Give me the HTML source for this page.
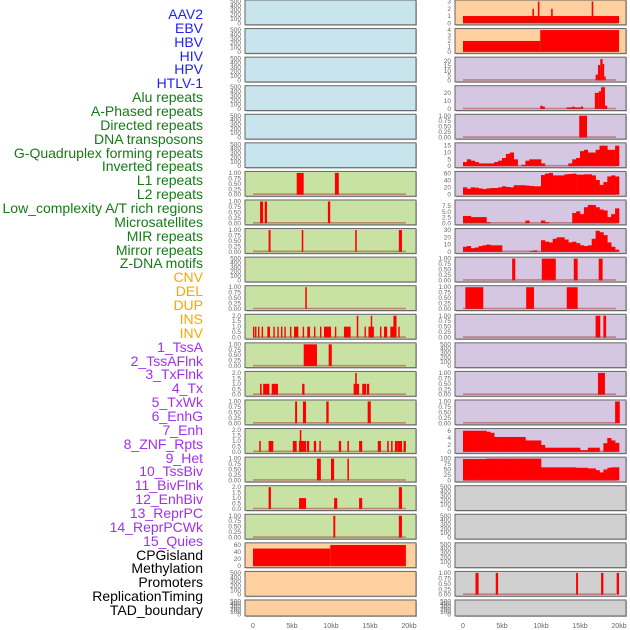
<!DOCTYPE html>
<html><head><meta charset="utf-8"><style>
html,body{margin:0;padding:0;background:#fff;}
body{width:630px;height:630px;overflow:hidden;position:relative;font-family:"Liberation Sans",sans-serif;}
.lab{position:absolute;right:427px;font-size:14px;line-height:14px;white-space:nowrap;}
svg{position:absolute;left:0;top:0;}
</style></head><body>
<div id="labels"></div>
<svg id="chart" width="630" height="630"></svg>
<script>
// ---- labels ----
const trackNames = ["AAV2","EBV","HBV","HIV","HPV","HTLV-1","Alu repeats","A-Phased repeats","Directed repeats","DNA transposons","G-Quadruplex forming repeats","Inverted repeats","L1 repeats","L2 repeats","Low_complexity A/T rich regions","Microsatellites","MIR repeats","Mirror repeats","Z-DNA motifs","CNV","DEL","DUP","INS","INV","1_TssA","2_TssAFlnk","3_TxFlnk","4_Tx","5_TxWk","6_EnhG","7_Enh","8_ZNF_Rpts","9_Het","10_TssBiv","11_BivFlnk","12_EnhBiv","13_ReprPC","14_ReprPCWk","15_Quies","CPGisland","Methylation","Promoters","ReplicationTiming","TAD_boundary"];
const trackGroups = [0,0,0,0,0,0,1,1,1,1,1,1,1,1,1,1,1,1,1,2,2,2,2,2,3,3,3,3,3,3,3,3,3,3,3,3,3,3,3,4,4,4,4,4];
const xTickVals = [0,5,10,15,20];
const xTickLabels = ["0","5kb","10kb","15kb","20kb"];

// ---- data: segments [startKb, endKb, value] ----
const AluRepeats = [[5.6,6.5,1],[10.5,11.0,1]];
const APhased = [[0.9,1.3,1],[1.5,1.8,1],[9.6,9.9,1]];
const Directed = [[2.0,2.25,1],[6.25,6.45,1],[13.1,13.3,1],[18.7,19.1,1]];
const GQuad = [[6.7,6.9,1]];
const Inverted = [[0,0.15,1],[0.26,0.41,1],[0.64,0.79,1],[1.11,1.26,1],[1.84,2.18,1],[2.61,2.76,1],[3.12,3.27,1],[3.59,3.74,1],[4.02,4.17,1],[4.74,4.89,1],[5.26,5.81,1],[6.37,6.52,1],[6.96,7.31,1],[7.82,7.97,1],[8.59,8.74,1],[9.1,10.0,1],[10.5,10.65,1],[11.66,12.52,1],[13.3,13.5,2],[14.3,14.45,1],[14.8,15.5,1],[15.1,15.25,2],[16.28,16.43,1],[16.8,17.2,1],[17.6,18.4,1],[18.0,18.4,2],[18.63,18.78,1]];
const L1Repeats = [[6.5,8.2,1],[9.7,10.1,1]];
const L2Repeats = [[0.9,1.1,1],[1.3,2.1,1],[2.4,3.2,1],[6.3,6.6,1],[12.9,13.6,1],[13.1,13.3,2],[14.0,14.5,1],[14.6,14.9,1]];
const LowComplexity = [[5.4,5.65,1],[6.4,6.8,1],[9.4,9.7,1],[14.7,15.1,1]];
const Microsatellites = [[0.8,1.0,1],[2.0,2.6,1],[5.1,5.6,1],[5.9,6.8,1],[6.0,6.2,2],[6.9,7.2,1],[7.8,8.1,1],[8.5,8.7,1],[11.0,11.3,1],[12.1,12.3,1],[13.6,14.0,1],[16.0,16.4,1],[17.2,17.4,1],[17.7,17.9,1],[18.2,18.5,1],[18.5,19.1,1],[19.3,19.6,1]];
const MIRRepeats = [[8.2,8.7,1],[10.0,10.4,1],[12.1,12.3,1]];
const MirrorRepeats = [[2.0,2.3,2],[5.9,6.8,1],[10.4,10.8,1],[13.6,14.0,1],[18.7,19.1,2]];
const ZDNA = [[10.3,10.55,1],[18.7,19.1,1]];
const DUPtrack = [[0,9.9,50],[9.9,19.6,60]];
const INStrack = [[0,20,1],[8.9,9.1,2],[9.6,9.8,3],[11.3,11.5,2],[16.5,16.7,3]];
const INVtrack = [[0,9.9,2],[9.9,20,4]];
const TssA = [[17.0,17.3,6],[17.3,17.6,16],[17.6,17.9,22],[17.9,18.1,17],[18.1,18.3,4]];
const TssAFlnk = [[9.9,10.2,4],[10.2,10.5,3],[13.3,14.0,2],[14.0,14.3,3],[14.3,15.1,2],[15.1,15.4,3],[16.9,17.4,20],[17.4,17.7,22],[17.7,18.2,27],[18.2,18.5,4]];
const TxFlnk = [[14.9,15.9,1]];
const ZNF = [[6.3,6.7,1],[10.1,11.9,1],[14.2,14.7,1],[17.4,17.9,1]];
const Het = [[0.3,2.6,1],[8.1,9.1,1],[13.3,14.7,1]];
const TssBiv = [[17.0,17.6,1],[18.0,18.35,1]];
const EnhBiv = [[17.3,18.2,1]];
const ReprPC = [[19.5,20.1,1]];
const Promoters = [[1.6,2.0,1],[4.2,4.5,1],[14.5,14.75,1],[17.7,18.0,1],[19.7,20.0,1]];

// ---- data: 0.5kb bins ----
const Tx = [3,5,4,3,2,2,2,2,3,4,6,9,10,5,0,1,4,5,5,5,2,0,0,0,0,0,0,2,5,6,11,12,10,10,12,15,15,12,12,15];
const TxWk = [21,17,21,20,18,16,18,19,19,21,24,22,21,27,27,27,26,25,24,24,56,60,62,55,55,55,58,59,60,57,57,58,58,55,42,28,36,52,55,52];
const EnhG = [3.2,3.2,2.7,2.7,2.7,2.7,0.5,0,0,0,0,0,0,0,0,0,1.2,0,0,0,1.2,0.5,0,0,0,0,0,0,4.5,5.2,4,7,8,8,7,6,5.6,2.7,4,6.5];
const Enh = [7,8,5,6,8,9,10,9,9,9,0,0,0,0,0,0,0,1,2,0,16,14,13,18,20,20,17,13,14,12,9,8,9,18,29,27,23,13,7,3];
const ReprPCWk = [6.1,6.1,6.1,6.1,6.1,6.1,5.8,5.5,4.3,4.3,4.3,4.3,4.3,4.3,4.3,4.3,3.3,3.3,3.3,3.3,2,1.2,1.2,1.2,1.2,1.2,1.2,1.2,1.2,1.2,0.5,0.5,1.2,1.2,1.2,0,2.5,4,3.3,2.6];
const Quies = [98,98,98,98,98,98,100,100,100,100,100,100,100,100,100,100,100,100,100,100,60,60,60,60,60,60,60,60,60,58,58,58,55,55,47,37,50,58,60,60];

const T_EMPTY=[[0,"0"],[100,"100"],[200,"200"],[300,"300"],[400,"400"],[500,"500"]];
const T_BIN=[[0,"0.00"],[0.25,"0.25"],[0.5,"0.50"],[0.75,"0.75"],[1,"1.00"]];
const T_TWO=[[0,"0.0"],[0.5,"0.5"],[1,"1.0"],[1.5,"1.5"],[2,"2.0"]];
const BG={b:"#c8e4ec",g:"#c8e2a4",o:"#fecf9f",p:"#d5c7e2",k:"#d0d0d0"};
// column, row, bg, ticks, ylim, segs, bins
const panels=[
 [0,0,"b",T_EMPTY,500,null,null],[0,1,"b",T_EMPTY,500,null,null],[0,2,"b",T_EMPTY,500,null,null],
 [0,3,"b",T_EMPTY,500,null,null],[0,4,"b",T_EMPTY,500,null,null],[0,5,"b",T_EMPTY,500,null,null],
 [0,6,"g",T_BIN,1,AluRepeats,null],[0,7,"g",T_BIN,1,APhased,null],[0,8,"g",T_BIN,1,Directed,null],
 [0,9,"g",T_EMPTY,500,null,null],[0,10,"g",T_BIN,1,GQuad,null],[0,11,"g",T_TWO,2,Inverted,null],
 [0,12,"g",T_BIN,1,L1Repeats,null],[0,13,"g",T_TWO,2,L2Repeats,null],[0,14,"g",T_BIN,1,LowComplexity,null],
 [0,15,"g",T_TWO,2,Microsatellites,null],[0,16,"g",T_BIN,1,MIRRepeats,null],[0,17,"g",T_TWO,2,MirrorRepeats,null],
 [0,18,"g",T_BIN,1,ZDNA,null],[0,19,"o",[[0,"0"],[20,"20"],[40,"40"],[60,"60"]],62,DUPtrack,null],
 [0,20,"o",T_EMPTY,500,null,null],[0,21,"o",T_EMPTY,500,null,null],
 [1,0,"o",[[0,"0"],[1,"1"],[2,"2"],[3,"3"]],3,INStrack,null],
 [1,1,"o",[[0,"0"],[1,"1"],[2,"2"],[3,"3"],[4,"4"]],4,INVtrack,null],
 [1,2,"p",[[0,"0"],[5,"5"],[10,"10"],[15,"15"],[20,"20"]],22.5,TssA,null],
 [1,3,"p",[[0,"0"],[10,"10"],[20,"20"]],27,TssAFlnk,null],
 [1,4,"p",T_BIN,1,TxFlnk,null],
 [1,5,"p",[[0,"0"],[5,"5"],[10,"10"],[15,"15"]],16,null,Tx],
 [1,6,"p",[[0,"0"],[20,"20"],[40,"40"],[60,"60"]],62,null,TxWk],
 [1,7,"p",[[0,"0.0"],[2.5,"2.5"],[5,"5.0"],[7.5,"7.5"]],9.5,null,EnhG],
 [1,8,"p",[[0,"0"],[10,"10"],[20,"20"],[30,"30"]],30,null,Enh],
 [1,9,"p",T_BIN,1,ZNF,null],[1,10,"p",T_BIN,1,Het,null],[1,11,"p",T_BIN,1,TssBiv,null],
 [1,12,"p",T_EMPTY,500,null,null],[1,13,"p",T_BIN,1,EnhBiv,null],[1,14,"p",T_BIN,1,ReprPC,null],
 [1,15,"p",[[0,"0"],[2,"2"],[4,"4"],[6,"6"]],6.3,null,ReprPCWk],
 [1,16,"p",[[0,"0"],[25,"25"],[50,"50"],[75,"75"],[100,"100"]],100,null,Quies],
 [1,17,"k",T_EMPTY,500,null,null],[1,18,"k",T_EMPTY,500,null,null],[1,19,"k",T_EMPTY,500,null,null],
 [1,20,"k",T_BIN,1,Promoters,null],[1,21,"k",T_EMPTY,500,null,null]
];

const groupColors=["#2020ff","#167a16","#ffa500","#a030f0","#000000"];
const labDiv=document.getElementById('labels');
trackNames.forEach((n,j)=>{
  const d=document.createElement('div');
  d.className='lab';
  d.textContent=n;
  d.style.top=(15+j*13.86-8)+'px';
  d.style.color=groupColors[trackGroups[j]];
  
  
  labDiv.appendChild(d);
});

const NS="http://www.w3.org/2000/svg";
const svg=document.getElementById('chart');
function mk(tag,attrs,parent){const e=document.createElementNS(NS,tag);for(const k in attrs)e.setAttribute(k,attrs[k]);(parent||svg).appendChild(e);return e;}
const colX=[245,455], panelW=171;
function xScale(c,kb){return colX[c]+8+kb*7.8;}
function rowTop(r){return r*28.57;}
function rowH(r){return r===21?16:24.8;}

panels.forEach(p=>{
  const [c,r,bg,ticks,ylim,segs,bins]=p;
  const top=rowTop(r),h=rowH(r),x0=colX[c];
  const g=mk('g',{});
  
  
  mk('rect',{x:x0+1,y:top+1,width:panelW,height:h,fill:"#bbb"},g);
  mk('rect',{x:x0,y:top,width:panelW,height:h,fill:BG[bg],stroke:"#666",'stroke-width':1},g);
  const yb=top+h-1.5, yt=top+1.5;
  const ys=v=>yb-(v/ylim)*(yb-yt);
  ticks.forEach(t=>{
    const tx=mk('text',{x:x0-4,y:ys(t[0])+2,'font-size':6.5,fill:"#666",'text-anchor':'end'},g);
    tx.textContent=t[1];
    
    
  });
  if(segs){
    segs.forEach(s=>{
      const xa=xScale(c,s[0]),xb=xScale(c,s[1]);
      const b=mk('rect',{x:xa,y:ys(s[2]),width:Math.max(1.4,xb-xa),height:yb-ys(s[2]),fill:"#ff0000"},g);
      
      
    });
  }
  if(bins){
    bins.forEach((v,i)=>{
      if(v<=0)return;
      const xa=xScale(c,i*0.5),xb=xScale(c,(i+1)*0.5);
      const b=mk('rect',{x:xa,y:ys(v),width:xb-xa+0.3,height:yb-ys(v),fill:"#ff0000"},g);
      
      
    });
  }
  if(segs||bins){
    const bl=mk('line',{x1:xScale(c,0),x2:xScale(c,19.6),y1:yb-0.5,y2:yb-0.5,stroke:"rgba(170,50,50,0.5)",'stroke-width':1.6},g);
    
    
  }
});

[0,1].forEach(c=>{
  xTickVals.forEach((v,i)=>{
    const t=mk('text',{x:xScale(c,v),y:628,'font-size':7,fill:"#666",'text-anchor':'middle'});
    t.textContent=xTickLabels[i];
    
    
  });
});
</script>
</body></html>
